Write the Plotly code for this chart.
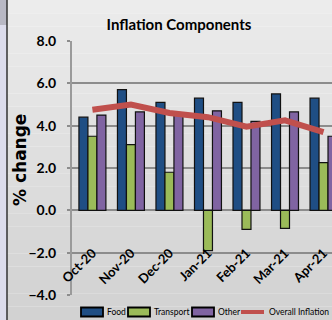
import plotly.graph_objects as go

categories = ["Oct-20", "Nov-20", "Dec-20", "Jan-21", "Feb-21", "Mar-21", "Apr-21"]
food = [4.4, 5.7, 5.1, 5.3, 5.1, 5.5, 5.3]
transport = [3.5, 3.1, 1.8, -1.9, -0.9, -0.85, 2.25]
other = [4.5, 4.65, 4.5, 4.7, 4.2, 4.65, 3.5]
overall = [4.75, 5.0, 4.6, 4.4, 3.95, 4.25, 3.7]
y_ticks = [-4, -2, 0, 2, 4, 6, 8]
series_names = ["Food", "Transport", "Other", "Overall Inflation"]
series_colors = ["#1F4E84", "#9BBB59", "#8064A2", "#C0504D"]

W, H = 332, 320
L, R, T, B = 72, 0, 41, 25
FONT = "Lato, 'Liberation Sans', sans-serif"

pw = W - L - R
ph = H - T - B

fig = go.Figure()
outline = dict(color="#111111", width=1.2)
for name, vals, col in zip(series_names[:3], [food, transport, other], series_colors[:3]):
    fig.add_bar(x=categories, y=vals, name=name, marker=dict(color=col, line=outline))
fig.add_scatter(x=categories, y=overall, name=series_names[3], mode="lines",
                line=dict(color=series_colors[3], width=6))

def px_x(x):
    return (x - L) / pw

def px_y(y):
    return (H - B - y) / ph

# background gradient
shapes = []
n = 24
top_c = (236, 236, 236)
bot_c = (210, 210, 210)
for i in range(n):
    f = i / (n - 1)
    c = tuple(int(top_c[k] + (bot_c[k] - top_c[k]) * f) for k in range(3))
    shapes.append(dict(type="rect", xref="paper", yref="paper", x0=px_x(0), x1=1,
                       y0=px_y(H * (i + 1) / n), y1=px_y(H * i / n),
                       fillcolor="rgb(%d,%d,%d)" % c, line=dict(width=0), layer="below"))
# left window strip
shapes.append(dict(type="rect", xref="paper", yref="paper", x0=px_x(0), x1=px_x(7),
                   y0=px_y(H), y1=px_y(0), fillcolor="#dcdcec", line=dict(width=0), layer="below"))
shapes.append(dict(type="rect", xref="paper", yref="paper", x0=px_x(0), x1=px_x(7),
                   y0=px_y(25), y1=px_y(0), fillcolor="#b8b8c4", line=dict(width=0), layer="below"))
shapes.append(dict(type="line", xref="paper", yref="paper", x0=px_x(7), x1=px_x(7),
                   y0=px_y(H), y1=px_y(0), line=dict(color="#333333", width=1.5), layer="below"))

# manual legend (pixel layout of the reference)
annotations = []
leg_y = 312
swatch_x = [81, 128, 192, 241]
text_x = [105, 152, 216, 267]
for i, (name, col) in enumerate(zip(series_names, series_colors)):
    if i < 3:
        shapes.append(dict(type="rect", xref="paper", yref="paper",
                           x0=px_x(swatch_x[i]), x1=px_x(swatch_x[i] + 22),
                           y0=px_y(leg_y + 4.5), y1=px_y(leg_y - 4.5),
                           fillcolor=col, line=dict(color="#000", width=1.8)))
    else:
        shapes.append(dict(type="line", xref="paper", yref="paper",
                           x0=px_x(swatch_x[i]), x1=px_x(swatch_x[i] + 23),
                           y0=px_y(leg_y), y1=px_y(leg_y),
                           line=dict(color=col, width=4)))
    annotations.append(dict(text=name, xref="paper", yref="paper", x=px_x(text_x[i]), y=px_y(leg_y),
                            xanchor="left", yanchor="middle", showarrow=False,
                            font=dict(family=FONT, size=8.5, color="#000")))

annotations.append(dict(text="% change", xref="paper", yref="paper",
                        x=px_x(20), y=px_y(160), xanchor="center", yanchor="middle",
                        textangle=-90, showarrow=False,
                        font=dict(family="DejaVu Sans", size=17, color="#000", weight="bold")))

fig.update_layout(
    width=W, height=H,
    margin=dict(l=L, r=R, t=T, b=B),
    paper_bgcolor="rgba(0,0,0,0)", plot_bgcolor="rgba(0,0,0,0)",
    barmode="group", bargap=0.3, bargroupgap=0,
    shapes=shapes,
    annotations=annotations,
    showlegend=False,
    title=dict(text="Inflation Components", x=179 / W, xanchor="center", xref="container",
               y=1 - 25 / H, yanchor="middle", yref="container",
               font=dict(family=FONT, size=15, color="#000", weight="bold")),
    xaxis=dict(range=[-0.53, 6.22], anchor="free", position=px_y(242),
               showline=False, showgrid=False, zeroline=False, ticks="",
               tickangle=-45, tickfont=dict(family=FONT, size=13, color="#000", weight="bold"),
               fixedrange=True),
    yaxis=dict(range=[-4, 8], tickvals=y_ticks, tickformat=".1f",
               showgrid=True, gridcolor="#8c8c8c", gridwidth=2,
               zeroline=True, zerolinecolor="#8c8c8c", zerolinewidth=2,
               showline=True, linecolor="#9a9a9a", linewidth=2,
               ticks="outside", ticklen=3, tickcolor="#8c8c8c", tickwidth=2,
               ticklabelstandoff=8,
               tickfont=dict(family=FONT, size=14, color="#000", weight="bold")),
)
fig.write_html("out.html")
